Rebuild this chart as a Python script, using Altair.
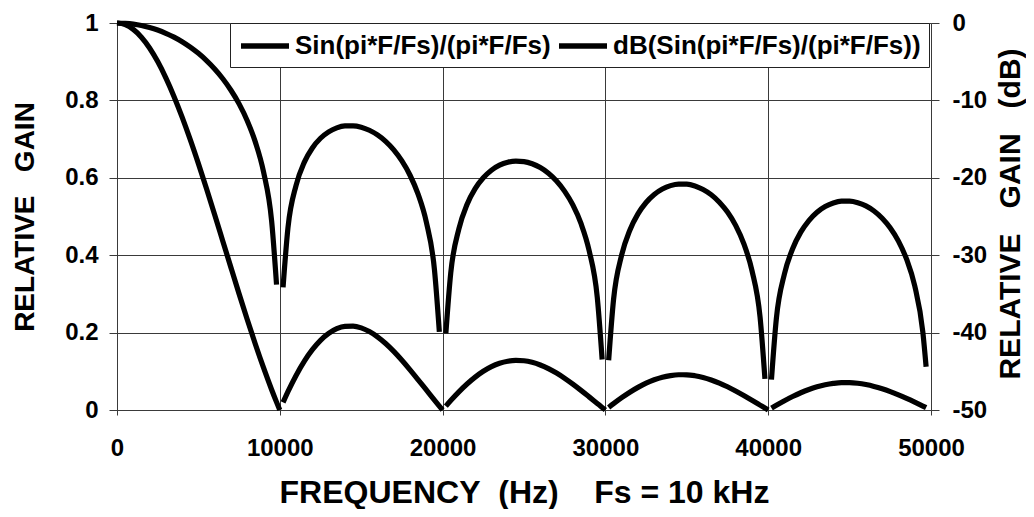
import altair as alt
import pandas as pd

LIN_NAME = "Sin(pi*F/Fs)/(pi*F/Fs)"
DB_NAME = "dB(Sin(pi*F/Fs)/(pi*F/Fs))"

# ---- linear gain, one list per lobe (frequency in Hz, relative gain) ----
lin_f1 = [0, 500, 1000, 1500, 2000, 2500, 3000, 3500, 4000, 4500, 5000, 5500, 6000, 6500, 7000, 7500, 8000, 8500, 9000, 9500, 9800, 10000]
lin_g1 = [1.0, 0.9959, 0.9836, 0.9634, 0.9355, 0.9003, 0.8584, 0.8103, 0.7568, 0.6986, 0.6366, 0.5716, 0.5046, 0.4363, 0.3679, 0.3001, 0.2339, 0.1700, 0.1093, 0.0524, 0.0204, 0.0]
lin_f2 = [10200, 10500, 11000, 11500, 12000, 12500, 13000, 13500, 14000, 14500, 15000, 15500, 16000, 16500, 17000, 17500, 18000, 18500, 19000, 19500, 19800, 20000]
lin_g2 = [0.0196, 0.0474, 0.0894, 0.1257, 0.1559, 0.1801, 0.1981, 0.2101, 0.2162, 0.2168, 0.2122, 0.2028, 0.1892, 0.1719, 0.1515, 0.1286, 0.1039, 0.0781, 0.0518, 0.0255, 0.0101, 0.0]
lin_f3 = [20200, 20500, 21000, 21500, 22000, 22500, 23000, 23500, 24000, 24500, 25000, 25500, 26000, 26500, 27000, 27500, 28000, 28500, 29000, 29500, 29800, 30000]
lin_g3 = [0.0099, 0.0243, 0.0468, 0.0672, 0.0850, 0.1000, 0.1120, 0.1207, 0.1261, 0.1283, 0.1273, 0.1233, 0.1164, 0.1070, 0.0954, 0.0818, 0.0668, 0.0507, 0.0339, 0.0169, 0.0067, 0.0]
lin_f4 = [30200, 30500, 31000, 31500, 32000, 32500, 33000, 33500, 34000, 34500, 35000, 35500, 36000, 36500, 37000, 37500, 38000, 38500, 39000, 39500, 39800, 40000]
lin_g4 = [0.0066, 0.0163, 0.0317, 0.0459, 0.0585, 0.0693, 0.0780, 0.0847, 0.0890, 0.0911, 0.0910, 0.0886, 0.0841, 0.0777, 0.0696, 0.0600, 0.0492, 0.0375, 0.0252, 0.0126, 0.0050, 0.0]
lin_f5 = [40200, 40500, 41000, 41500, 42000, 42500, 43000, 43500, 44000, 44500, 45000, 45500, 46000, 46500, 47000, 47500, 48000, 48500, 49000, 49500, 49700]
lin_g5 = [0.0050, 0.0123, 0.0240, 0.0348, 0.0446, 0.0530, 0.0599, 0.0652, 0.0688, 0.0707, 0.0707, 0.0691, 0.0658, 0.0610, 0.0548, 0.0474, 0.0390, 0.0298, 0.0201, 0.0101, 0.0060]

# ---- gain in dB, one list per lobe ----
db_f1 = [0, 500, 1000, 1500, 2000, 2500, 3000, 3500, 4000, 4500, 5000, 5500, 6000, 6500, 7000, 7500, 8000, 8500, 9000, 9500, 9800]
db_g1 = [0.0, -0.04, -0.14, -0.32, -0.58, -0.91, -1.33, -1.83, -2.42, -3.12, -3.92, -4.86, -5.94, -7.20, -8.69, -10.45, -12.62, -15.39, -19.23, -25.61, -33.8]
db_f2 = [10200, 10500, 11000, 11500, 12000, 12500, 13000, 13500, 14000, 14500, 15000, 15500, 16000, 16500, 17000, 17500, 18000, 18500, 19000, 19500, 19800]
db_g2 = [-34.15, -26.48, -20.97, -18.01, -16.14, -14.89, -14.06, -13.55, -13.30, -13.28, -13.46, -13.86, -14.46, -15.29, -16.39, -17.82, -19.67, -22.15, -25.71, -31.87, -39.9]
db_f3 = [20200, 20500, 21000, 21500, 22000, 22500, 23000, 23500, 24000, 24500, 25000, 25500, 26000, 26500, 27000, 27500, 28000, 28500, 29000, 29500, 29800]
db_g3 = [-40.1, -32.29, -26.60, -23.45, -21.41, -20.00, -19.02, -18.37, -17.99, -17.84, -17.90, -18.18, -18.68, -19.41, -20.41, -21.75, -23.50, -25.90, -29.40, -35.44, -43.47]
db_f4 = [30200, 30500, 31000, 31500, 32000, 32500, 33000, 33500, 34000, 34500, 35000, 35500, 36000, 36500, 37000, 37500, 38000, 38500, 39000, 39500, 39800]
db_g4 = [-43.58, -35.74, -29.97, -26.77, -24.66, -23.19, -22.15, -21.45, -21.01, -20.81, -20.82, -21.05, -21.51, -22.19, -23.15, -24.43, -26.15, -28.51, -31.96, -37.99, -45.98]
db_f5 = [40200, 40500, 41000, 41500, 42000, 42500, 43000, 43500, 44000, 44500, 45000, 45500, 46000, 46500, 47000, 47500, 48000, 48500, 49000, 49500, 49700]
db_g5 = [-46.07, -38.21, -32.40, -29.16, -27.02, -25.52, -24.45, -23.72, -23.25, -23.02, -23.01, -23.21, -23.63, -24.29, -25.23, -26.49, -28.18, -30.52, -33.95, -39.95, -44.4]

x_ticks = [0, 10000, 20000, 30000, 40000, 50000]
lin_ticks = [0, 0.2, 0.4, 0.6, 0.8, 1]
db_ticks = [-50, -40, -30, -20, -10, 0]

lin_rows = []
for k, (fs, gs) in enumerate(zip([lin_f1, lin_f2, lin_f3, lin_f4, lin_f5],
                                 [lin_g1, lin_g2, lin_g3, lin_g4, lin_g5])):
    for f, g in zip(fs, gs):
        lin_rows.append({"F": f, "gain": g, "lobe": k, "series": LIN_NAME})
db_rows = []
for k, (fs, gs) in enumerate(zip([db_f1, db_f2, db_f3, db_f4, db_f5],
                                 [db_g1, db_g2, db_g3, db_g4, db_g5])):
    for f, g in zip(fs, gs):
        db_rows.append({"F": f, "db": g, "lobe": k, "series": DB_NAME})
lin_df = pd.DataFrame(lin_rows)
db_df = pd.DataFrame(db_rows)

FONT = "Liberation Sans"
GRID = "#3a3a3a"
W, H = 814, 387
SP = "\u00a0"
LW = 5.2

color = alt.Color(
    "series:N",
    scale=alt.Scale(domain=[LIN_NAME, DB_NAME], range=["black", "black"]),
    legend=alt.Legend(
        title=None, orient="none", legendX=113, legendY=0, direction="horizontal",
        strokeColor="#222", fillColor="white", padding=8, cornerRadius=0,
        symbolType="M-1,0H3", symbolSize=576, symbolStrokeWidth=5.5,
        labelFont=FONT, labelFontSize=26, labelFontWeight="bold", labelColor="black",
        labelLimit=600, labelOffset=27, columnPadding=-3,
    ),
)

x_enc = alt.X(
    "F:Q",
    scale=alt.Scale(domain=[0, 50000], nice=False, zero=False),
    axis=alt.Axis(
        values=x_ticks, format="d", grid=True, gridColor=GRID, gridWidth=1,
        domainColor=GRID, tickColor=GRID, tickSize=5,
        labelFont=FONT, labelFontSize=24, labelFontWeight="bold", labelColor="black",
        labelPadding=21, labelFlush=False,
        title="FREQUENCY" + SP * 2 + "(Hz)" + SP * 4 + "Fs = 10 kHz",
        titleFont=FONT, titleFontSize=32, titleFontWeight="bold", titleColor="black",
        titleX=W / 2, titleY=92, titleBaseline="alphabetic", titleAlign="center",
    ),
)

lin_layer = alt.Chart(lin_df).mark_line(strokeWidth=LW, interpolate="monotone", strokeCap="butt").encode(
    x=x_enc,
    y=alt.Y(
        "gain:Q",
        scale=alt.Scale(domain=[0, 1], nice=False),
        axis=alt.Axis(
            orient="left", values=lin_ticks, format="~g", grid=True, gridColor=GRID, gridWidth=1,
            domainColor=GRID, tickColor=GRID, tickSize=8,
            labelFont=FONT, labelFontSize=24, labelFontWeight="bold", labelColor="black",
            labelPadding=11, labelFlush=False,
            title="RELATIVE" + SP * 3 + "GAIN",
            titleFont=FONT, titleFontSize=28, titleFontWeight="bold", titleColor="black",
            titleAngle=270, titleX=-84, titleY=H / 2, titleBaseline="alphabetic", titleAlign="center",
        ),
    ),
    detail="lobe:N",
    color=color,
)

db_layer = alt.Chart(db_df).mark_line(strokeWidth=LW, interpolate="monotone", strokeCap="butt").encode(
    x=alt.X("F:Q"),
    y=alt.Y(
        "db:Q",
        scale=alt.Scale(domain=[-50, 0], nice=False),
        axis=alt.Axis(
            orient="right", values=db_ticks, labelExpr="'' + datum.value", grid=False,
            domainColor=GRID, tickColor=GRID, tickSize=8,
            labelFont=FONT, labelFontSize=24, labelFontWeight="bold", labelColor="black",
            labelPadding=13, labelFlush=False,
            title="RELATIVE" + SP * 3 + "GAIN" + SP * 3 + "(dB)",
            titleFont=FONT, titleFontSize=30, titleFontWeight="bold", titleColor="black",
            titleAngle=270, titleX=88, titleY=H / 2 - 3, titleBaseline="alphabetic", titleAlign="center",
        ),
    ),
    detail="lobe:N",
    color=color,
)

chart = (
    alt.layer(lin_layer, db_layer)
    .resolve_scale(y="independent")
    .properties(
        width=W, height=H,
        autosize=alt.AutoSizeParams(type="none"),
        padding={"left": 109, "top": 15, "right": 95, "bottom": 99},
        background="white",
    )
    .configure_view(stroke=None)
)

chart.save("out.html", embed_options={"renderer": "svg", "actions": False})
